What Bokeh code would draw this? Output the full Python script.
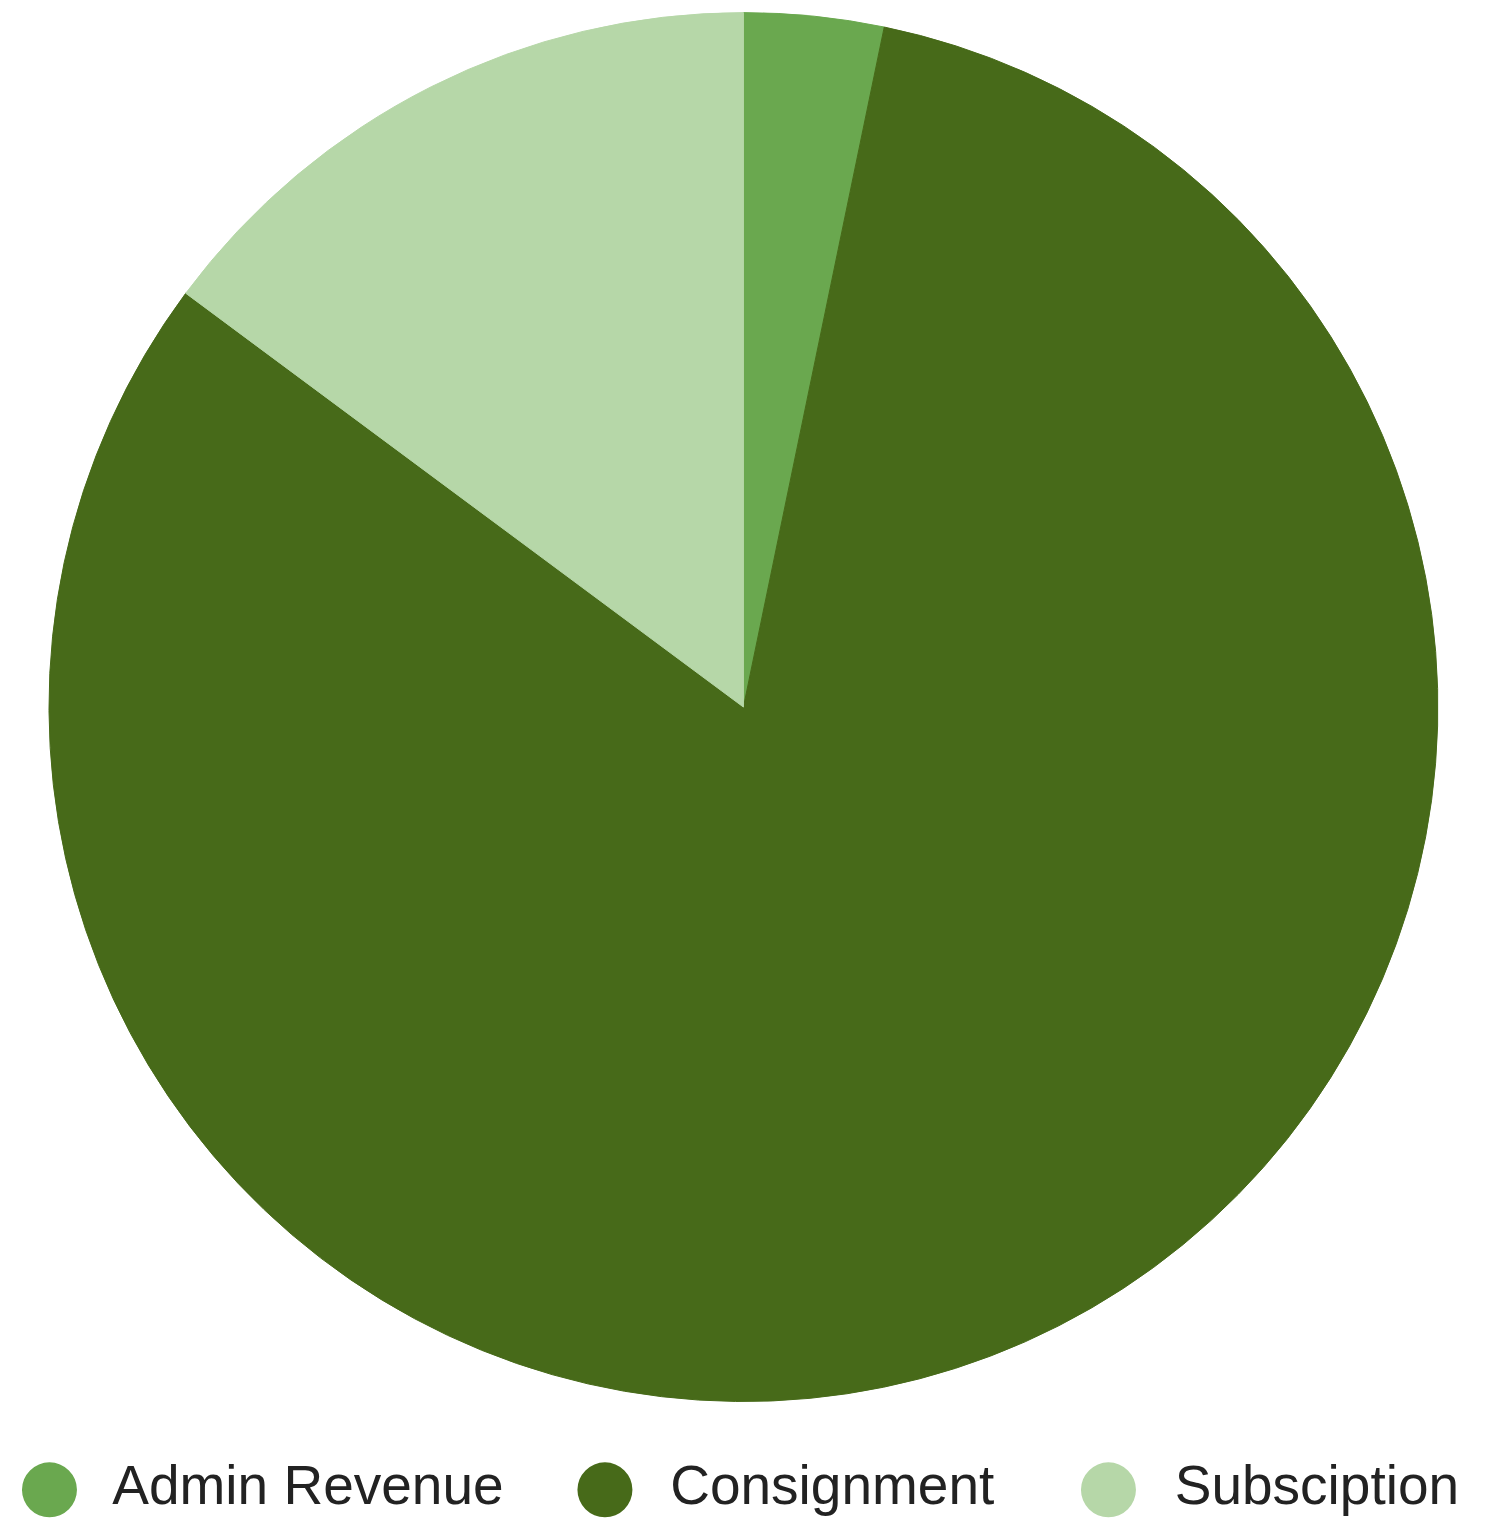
import math
from bokeh.plotting import figure
from bokeh.models import Range1d, ColumnDataSource
from bokeh.core.properties import value
from bokeh.embed import file_html
from bokeh.resources import INLINE

categories = ["Admin Revenue", "Consignment", "Subsciption"]
values = [3.25, 81.91, 14.84]
colors = ["#6aa84f", "#476a19", "#b6d7a8"]

W, H = 1472, 1520
SX, SY = W / 1488, H / 1536   # layout scale from reference canvas

p = figure(width=W, height=H, output_backend="svg", toolbar_location=None,
           x_range=Range1d(0, W), y_range=Range1d(0, H), min_border=0)
p.axis.visible = False
p.grid.visible = False
p.outline_line_color = None
p.background_fill_color = "white"

total = sum(values)
starts, ends = [], []
cum = 0.0
for v in values:
    starts.append(math.pi / 2 - cum / total * 2 * math.pi)
    cum += v
    ends.append(math.pi / 2 - cum / total * 2 * math.pi)

cx, cy, r = 751 * SX, H - 714 * SY, 702 * SX
src = ColumnDataSource(dict(start=starts, end=ends, color=colors, cat=categories))
p.wedge(x=cx, y=cy, radius=r, start_angle="start", end_angle="end",
        direction="clock", fill_color="color", line_color="color", line_width=1,
        source=src)

# legend
lx = [49.5 * SX, 611 * SX, 1120 * SX]
tx = [113 * SX, 677 * SX, 1187 * SX]
p.scatter(x=lx, y=[H - 1505 * SY] * 3, size=55, marker="circle",
          fill_color=colors, line_color=None)
p.text(x=tx, y=[H - 1500.5 * SY] * 3, text=categories, text_font=value("Liberation Sans"),
       text_font_size="55px", text_color="#222222", text_baseline="middle",
       text_align="left")

open("out.html", "w").write(file_html(p, INLINE))
